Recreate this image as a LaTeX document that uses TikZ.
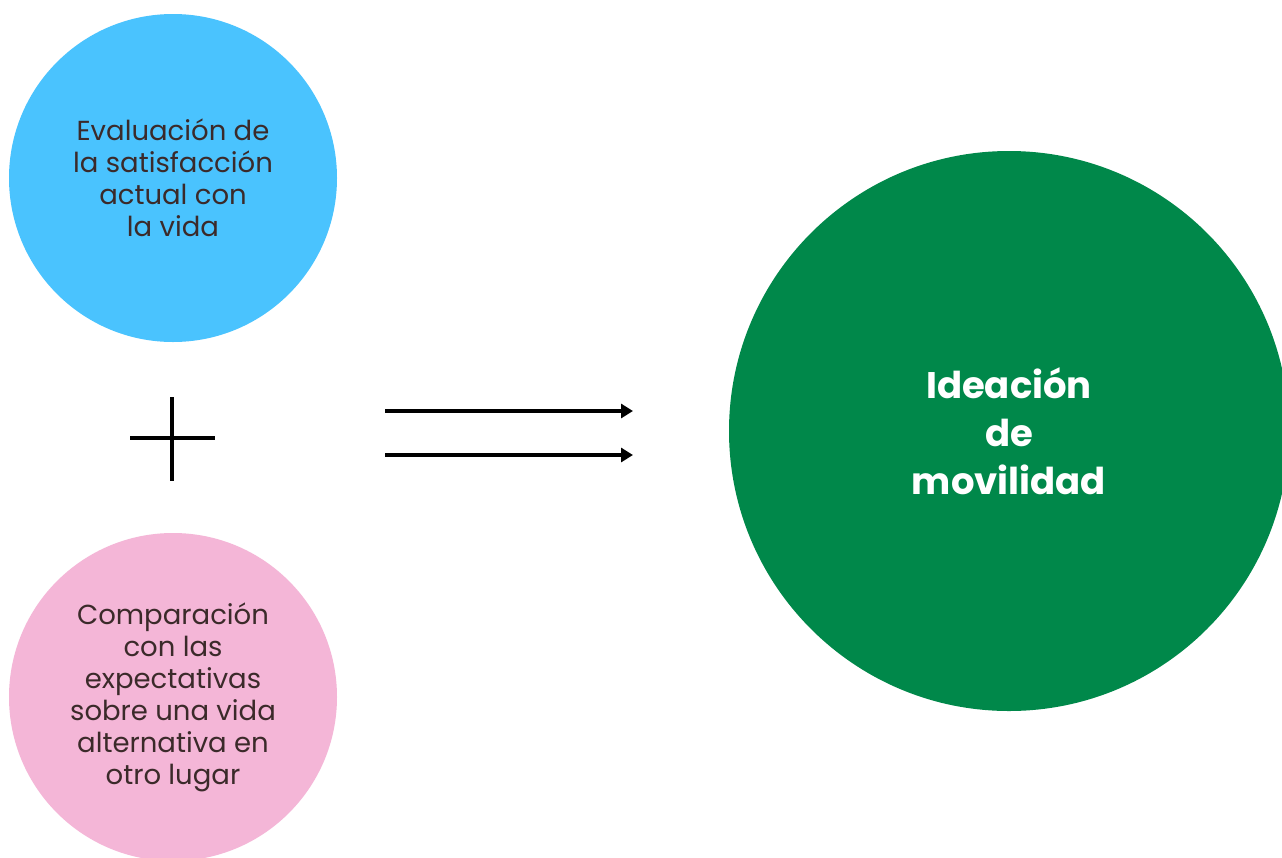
\documentclass[tikz,border=0pt]{standalone}
\usepackage{fontspec}
\setmainfont{Poppins}
\usepackage{tikz}
\usetikzlibrary{arrows.meta}
\definecolor{skyblue}{HTML}{4AC3FE}
\definecolor{softpink}{HTML}{F4B6D7}
\definecolor{deepgreen}{HTML}{00884A}
\definecolor{darktext}{HTML}{3B2A2A}
\tikzset{
	bubble/.style={circle, inner sep=0pt, text=darktext, align=center, font=\fontsize{27.5}{32}\selectfont},
	bigbubble/.style={circle, inner sep=0pt, fill=deepgreen, text=white, align=center, font=\fontsize{37}{48}\selectfont\bfseries},
	thickline/.style={line width=4pt, color=black},
	implies/.style={line width=4pt, color=black, -{Triangle[length=12pt, width=14pt]}}
}

\begin{document}
\begin{tikzpicture}[x=1pt, y=-1pt]
			%%%%% START %%%%%
			
			\clip (0, 0) rectangle (1282, 857);
			\fill[white] (0, 0) rectangle (1282, 857);
			
			\node[bubble, fill=skyblue, minimum size=328pt] (current) at (173, 178) {Evaluación de\\la satisfacción\\actual con\\la vida};
			\node[bubble, fill=softpink, minimum size=328pt] (compare) at (173, 697) {Comparación\\con las\\expectativas\\sobre una vida\\alternativa en\\otro lugar};
			
			\node[bigbubble, minimum size=560pt] (ideation) at (1009, 431) {Ideación\\de\\movilidad};
			
			\coordinate (plusL) at (130, 438);
			\coordinate (plusR) at (215, 438);
			\coordinate (plusT) at (172, 397);
			\coordinate (plusB) at (172, 481);
			\draw[thickline] (plusL) -- (plusR);
			\draw[thickline] (plusT) -- (plusB);
			
			\coordinate (upperA) at (385, 411);
			\coordinate (upperB) at (633, 411);
			\coordinate (lowerA) at (385, 455);
			\coordinate (lowerB) at (633, 455);
			\draw[implies] (upperA) -- (upperB);
			\draw[implies] (lowerA) -- (lowerB);
			
			%%%%% END %%%%%
		\end{tikzpicture}
\end{document}
